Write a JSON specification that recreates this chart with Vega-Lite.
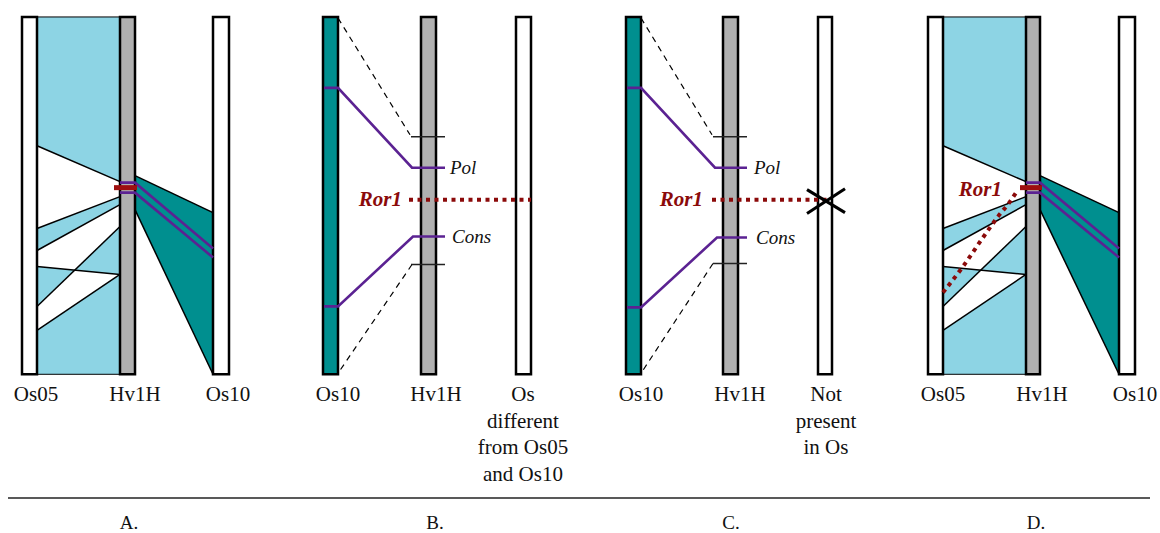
{
  "$schema": "https://vega.github.io/schema/vega-lite/v6.json",
  "width": 1160,
  "height": 533,
  "autosize": {"type": "fit", "contains": "padding"},
  "padding": 0,
  "background": "white",
  "config": {"view": {"stroke": null}},
  "datasets": {
    "blue": [
      {"x": 37, "x2": 120, "y": 17, "y2": 375},
      {"x": 943, "x2": 1026, "y": 17, "y2": 375}
    ],
    "whitepoly": [
      {"id": "A1", "x": 37, "y": 146, "y2": 229},
      {"id": "A1", "x": 120, "y": 182, "y2": 197},
      {"id": "A2", "x": 37, "y": 251, "y2": 267},
      {"id": "A2", "x": 75, "y": 229.9, "y2": 270.6},
      {"id": "A2", "x": 120, "y": 205, "y2": 227},
      {"id": "A3", "x": 37, "y": 307, "y2": 331},
      {"id": "A3", "x": 75, "y": 270.6, "y2": 305.4},
      {"id": "A3", "x": 120, "y": 275, "y2": 275},
      {"id": "D1", "x": 943, "y": 146, "y2": 229},
      {"id": "D1", "x": 1026, "y": 182, "y2": 197},
      {"id": "D2", "x": 943, "y": 251, "y2": 267},
      {"id": "D2", "x": 981, "y": 229.9, "y2": 270.6},
      {"id": "D2", "x": 1026, "y": 205, "y2": 227},
      {"id": "D3", "x": 943, "y": 307, "y2": 331},
      {"id": "D3", "x": 981, "y": 270.6, "y2": 305.4},
      {"id": "D3", "x": 1026, "y": 275, "y2": 275}
    ],
    "tealpoly": [
      {"id": "A", "x": 135, "y": 176, "y2": 210},
      {"id": "A", "x": 213, "y": 213, "y2": 375},
      {"id": "D", "x": 1040, "y": 176, "y2": 210},
      {"id": "D", "x": 1119, "y": 213, "y2": 375}
    ],
    "edges": [
      {"x": 37, "y": 146, "x2": 120, "y2": 182},
      {"x": 37, "y": 229, "x2": 120, "y2": 197},
      {"x": 37, "y": 251, "x2": 120, "y2": 205},
      {"x": 37, "y": 267, "x2": 120, "y2": 275},
      {"x": 37, "y": 307, "x2": 120, "y2": 227},
      {"x": 37, "y": 331, "x2": 120, "y2": 275},
      {"x": 135, "y": 176, "x2": 213, "y2": 213},
      {"x": 135, "y": 210, "x2": 213, "y2": 375},
      {"x": 943, "y": 146, "x2": 1026, "y2": 182},
      {"x": 943, "y": 229, "x2": 1026, "y2": 197},
      {"x": 943, "y": 251, "x2": 1026, "y2": 205},
      {"x": 943, "y": 267, "x2": 1026, "y2": 275},
      {"x": 943, "y": 307, "x2": 1026, "y2": 227},
      {"x": 943, "y": 331, "x2": 1026, "y2": 275},
      {"x": 1040, "y": 176, "x2": 1119, "y2": 213},
      {"x": 1040, "y": 210, "x2": 1119, "y2": 375}
    ],
    "bars": [
      {"k": "os", "x": 22, "x2": 37, "y": 17, "y2": 375},
      {"k": "hv", "x": 120, "x2": 135, "y": 17, "y2": 375},
      {"k": "os", "x": 213, "x2": 229, "y": 17, "y2": 375},
      {"k": "teal", "x": 323, "x2": 338, "y": 17, "y2": 375},
      {"k": "hv", "x": 421, "x2": 436, "y": 17, "y2": 375},
      {"k": "os", "x": 516, "x2": 531, "y": 17, "y2": 375},
      {"k": "teal", "x": 626, "x2": 641, "y": 17, "y2": 375},
      {"k": "hv", "x": 723, "x2": 738, "y": 17, "y2": 375},
      {"k": "os", "x": 818, "x2": 832, "y": 17, "y2": 375},
      {"k": "os", "x": 928, "x2": 943, "y": 17, "y2": 375},
      {"k": "hv", "x": 1026, "x2": 1040, "y": 17, "y2": 375},
      {"k": "os", "x": 1119, "x2": 1135, "y": 17, "y2": 375}
    ],
    "dashed": [
      {"x": 338, "y": 18, "x2": 410, "y2": 135},
      {"x": 412, "y": 265, "x2": 338, "y2": 374},
      {"x": 641, "y": 18, "x2": 712, "y2": 135},
      {"x": 713, "y": 264, "x2": 641, "y2": 374}
    ],
    "ticks": [
      {"x": 411, "y": 137, "x2": 445, "y2": 137},
      {"x": 411, "y": 265, "x2": 445, "y2": 265},
      {"x": 713, "y": 137, "x2": 747, "y2": 137},
      {"x": 713, "y": 264, "x2": 747, "y2": 264},
      {"x": 8, "y": 499, "x2": 1150, "y2": 499}
    ],
    "purple": [
      {"id": "At", "i": 1, "x": 120, "y": 183},
      {"id": "At", "i": 2, "x": 135, "y": 183},
      {"id": "At", "i": 3, "x": 213, "y": 249},
      {"id": "Ab", "i": 1, "x": 120, "y": 193},
      {"id": "Ab", "i": 2, "x": 135, "y": 193},
      {"id": "Ab", "i": 3, "x": 213, "y": 258},
      {"id": "Bt", "i": 1, "x": 324, "y": 88},
      {"id": "Bt", "i": 2, "x": 338, "y": 88},
      {"id": "Bt", "i": 3, "x": 412, "y": 168},
      {"id": "Bt", "i": 4, "x": 445, "y": 168},
      {"id": "Bb", "i": 1, "x": 324, "y": 307},
      {"id": "Bb", "i": 2, "x": 338, "y": 307},
      {"id": "Bb", "i": 3, "x": 413, "y": 237},
      {"id": "Bb", "i": 4, "x": 445, "y": 237},
      {"id": "Ct", "i": 1, "x": 627, "y": 88},
      {"id": "Ct", "i": 2, "x": 641, "y": 88},
      {"id": "Ct", "i": 3, "x": 715, "y": 168},
      {"id": "Ct", "i": 4, "x": 747, "y": 168},
      {"id": "Cb", "i": 1, "x": 627, "y": 308},
      {"id": "Cb", "i": 2, "x": 641, "y": 308},
      {"id": "Cb", "i": 3, "x": 717, "y": 238},
      {"id": "Cb", "i": 4, "x": 747, "y": 238},
      {"id": "Dt", "i": 1, "x": 1026, "y": 183},
      {"id": "Dt", "i": 2, "x": 1040, "y": 183},
      {"id": "Dt", "i": 3, "x": 1119, "y": 249},
      {"id": "Db", "i": 1, "x": 1026, "y": 193},
      {"id": "Db", "i": 2, "x": 1040, "y": 193},
      {"id": "Db", "i": 3, "x": 1119, "y": 258}
    ],
    "redbar": [
      {"x": 114, "y": 188, "x2": 137, "y2": 188},
      {"x": 1020, "y": 188, "x2": 1042, "y2": 188}
    ],
    "dotted": [
      {"id": "B", "x": 409, "y": 200},
      {"id": "B", "x": 531, "y": 200},
      {"id": "C", "x": 712, "y": 200},
      {"id": "C", "x": 830, "y": 200},
      {"id": "D", "x": 943, "y": 293},
      {"id": "D", "x": 963, "y": 267},
      {"id": "D", "x": 983, "y": 238},
      {"id": "D", "x": 998, "y": 217},
      {"id": "D", "x": 1010, "y": 202},
      {"id": "D", "x": 1018, "y": 190}
    ],
    "cross": [
      {"x": 807, "y": 190, "x2": 845, "y2": 213},
      {"x": 807, "y": 214, "x2": 845, "y2": 189}
    ],
    "labels": [
      {"t": "Os05", "x": 36, "y": 402},
      {"t": "Hv1H", "x": 135, "y": 402},
      {"t": "Os10", "x": 228, "y": 402},
      {"t": "Os10", "x": 338, "y": 402},
      {"t": "Hv1H", "x": 436, "y": 402},
      {"t": "Os", "x": 523, "y": 402},
      {"t": "different", "x": 523, "y": 428.5},
      {"t": "from Os05", "x": 523, "y": 455},
      {"t": "and Os10", "x": 523, "y": 481.5},
      {"t": "Os10", "x": 641, "y": 402},
      {"t": "Hv1H", "x": 740, "y": 402},
      {"t": "Not", "x": 826, "y": 402},
      {"t": "present", "x": 826, "y": 428.5},
      {"t": "in Os", "x": 826, "y": 455},
      {"t": "Os05", "x": 943, "y": 402},
      {"t": "Hv1H", "x": 1042, "y": 402},
      {"t": "Os10", "x": 1135, "y": 402}
    ],
    "genes": [
      {"t": "Pol", "x": 450, "y": 168},
      {"t": "Cons", "x": 452, "y": 237},
      {"t": "Pol", "x": 754, "y": 168},
      {"t": "Cons", "x": 756, "y": 238}
    ],
    "ror": [
      {"t": "Ror1", "x": 402, "y": 200},
      {"t": "Ror1", "x": 703, "y": 200},
      {"t": "Ror1", "x": 1002, "y": 190}
    ],
    "panels": [
      {"t": "A.", "x": 129, "y": 530},
      {"t": "B.", "x": 435, "y": 530},
      {"t": "C.", "x": 731, "y": 530},
      {"t": "D.", "x": 1036, "y": 530}
    ]
  },
  "encoding": {
    "x": {"field": "x", "type": "quantitative", "scale": {"domain": [0, 1160], "nice": false, "zero": false}, "axis": null},
    "y": {"field": "y", "type": "quantitative", "scale": {"domain": [0, 533], "nice": false, "zero": false, "reverse": true}, "axis": null}
  },
  "layer": [
    {
      "data": {"name": "blue"},
      "mark": {"type": "rect", "fill": "#8dd4e4", "stroke": "#000000", "strokeWidth": 1},
      "encoding": {"x2": {"field": "x2"}, "y2": {"field": "y2"}}
    },
    {
      "data": {"name": "whitepoly"},
      "mark": {"type": "area", "fill": "#ffffff", "opacity": 1, "interpolate": "linear"},
      "encoding": {"y2": {"field": "y2"}, "detail": {"field": "id"}}
    },
    {
      "data": {"name": "tealpoly"},
      "mark": {"type": "area", "fill": "#008f8f", "opacity": 1, "interpolate": "linear"},
      "encoding": {"y2": {"field": "y2"}, "detail": {"field": "id"}}
    },
    {
      "data": {"name": "edges"},
      "mark": {"type": "rule", "color": "#000000", "strokeWidth": 1.5},
      "encoding": {"x2": {"field": "x2"}, "y2": {"field": "y2"}}
    },
    {
      "data": {"name": "bars"},
      "mark": {"type": "rect", "stroke": "#000000", "strokeWidth": 2.5},
      "encoding": {
        "x2": {"field": "x2"},
        "y2": {"field": "y2"},
        "fill": {"field": "k", "type": "nominal", "scale": {"domain": ["os", "hv", "teal"], "range": ["#ffffff", "#b0b0b0", "#008f8f"]}, "legend": null}
      }
    },
    {
      "data": {"name": "dashed"},
      "mark": {"type": "rule", "color": "#000000", "strokeWidth": 1.2, "strokeDash": [6, 5]},
      "encoding": {"x2": {"field": "x2"}, "y2": {"field": "y2"}}
    },
    {
      "data": {"name": "ticks"},
      "mark": {"type": "rule", "color": "#222222", "strokeWidth": 1.4},
      "encoding": {"x2": {"field": "x2"}, "y2": {"field": "y2"}}
    },
    {
      "data": {"name": "purple"},
      "mark": {"type": "line", "color": "#5b2292", "strokeWidth": 2.6, "strokeJoin": "miter"},
      "encoding": {"detail": {"field": "id"}, "order": {"field": "i", "type": "quantitative"}}
    },
    {
      "data": {"name": "redbar"},
      "mark": {"type": "rule", "color": "#9e0f0f", "strokeWidth": 5},
      "encoding": {"x2": {"field": "x2"}, "y2": {"field": "y2"}}
    },
    {
      "data": {"name": "dotted"},
      "mark": {"type": "line", "color": "#8b0a0a", "strokeWidth": 4, "strokeDash": [4, 4.5], "interpolate": "monotone"},
      "encoding": {"detail": {"field": "id"}}
    },
    {
      "data": {"name": "cross"},
      "mark": {"type": "rule", "color": "#000000", "strokeWidth": 3},
      "encoding": {"x2": {"field": "x2"}, "y2": {"field": "y2"}}
    },
    {
      "data": {"name": "labels"},
      "mark": {"type": "text", "font": "Liberation Serif", "fontSize": 21, "align": "center", "baseline": "alphabetic", "color": "#111111"},
      "encoding": {"text": {"field": "t"}}
    },
    {
      "data": {"name": "genes"},
      "mark": {"type": "text", "font": "Liberation Serif", "fontSize": 19, "fontStyle": "italic", "align": "left", "baseline": "middle", "color": "#111111"},
      "encoding": {"text": {"field": "t"}}
    },
    {
      "data": {"name": "ror"},
      "mark": {"type": "text", "font": "Liberation Serif", "fontSize": 21, "fontStyle": "italic", "fontWeight": "bold", "align": "right", "baseline": "middle", "color": "#8b0a0a"},
      "encoding": {"text": {"field": "t"}}
    },
    {
      "data": {"name": "panels"},
      "mark": {"type": "text", "font": "Liberation Serif", "fontSize": 19, "align": "center", "baseline": "alphabetic", "color": "#111111"},
      "encoding": {"text": {"field": "t"}}
    }
  ]
}
